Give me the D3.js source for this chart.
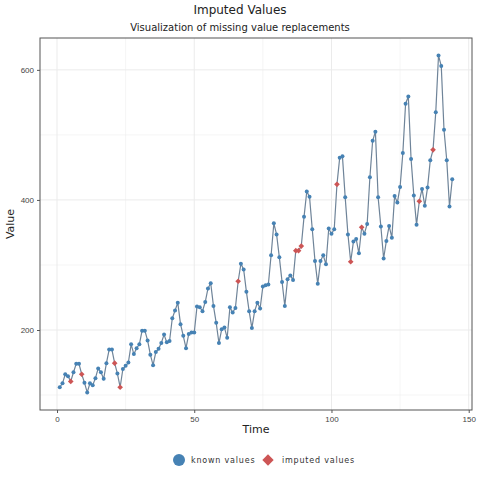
<!DOCTYPE html>
<html><head><meta charset="utf-8">
<script src="https://cdn.jsdelivr.net/npm/d3@7"></script>
<style>body{margin:0;background:#fff;font-family:"DejaVu Sans",sans-serif}</style>
</head><body><svg id="chart"></svg>
<script>
const width = 480, height = 480;
// AirPassengers-like series, index 1..144
const values = [112,118,132,129,121,135,148,148,136,119,104,118,
  115,126,141,135,125,149,170,170,158,133,114,140,
  145,150,178,163,172,178,199,199,184,162,146,166,
  171,180,193,181,183,218,230,242,209,191,172,194,
  196,196,236,235,229,243,264,272,237,211,180,201,
  204,188,235,227,234,264,302,293,259,229,203,229,
  242,233,267,269,270,315,364,347,312,274,237,278,
  284,277,317,313,318,374,413,405,355,306,271,306,
  315,301,356,348,355,422,465,467,404,347,305,336,
  340,318,362,348,363,435,491,505,404,359,310,337,
  360,342,406,396,420,472,548,559,463,407,362,405,
  417,391,419,461,472,535,622,606,508,461,390,432];
const imputedIdx = [5, 9, 21, 23, 66, 87, 88, 89, 102, 107, 111, 132, 137];
const imputedVal = [121, 132, 149, 112, 275, 322, 322, 329, 424, 305, 358, 398, 477];
const xTicks = [0, 50, 100, 150];
const yTicks = [200, 400, 600];

const series = values.map((v, i) => ({ t: i + 1, v, imp: false }));
imputedIdx.forEach((t, k) => { series[t - 1].v = imputedVal[k]; series[t - 1].imp = true; });

const m = { l: 40, r: 472, t: 38, b: 410 };
const svg = d3.select('#chart').attr('width', width).attr('height', height);
const x = d3.scaleLinear().domain([-6.2, 151.2]).range([m.l, m.r]);
const y = d3.scaleLinear().domain([77, 649]).range([m.b, m.t]);

// grid
const grid = svg.append('g').attr('stroke', '#ebebeb');
d3.range(-25, 151, 25).forEach(t => { if (t >= -6) grid.append('line').attr('x1', x(t)).attr('x2', x(t)).attr('y1', m.t).attr('y2', m.b).attr('stroke-width', t % 50 ? 0.5 : 1); });
d3.range(100, 650, 100).forEach(t => grid.append('line').attr('y1', y(t)).attr('y2', y(t)).attr('x1', m.l).attr('x2', m.r).attr('stroke-width', t % 200 ? 0.5 : 1));

svg.append('rect').attr('x', m.l).attr('y', m.t).attr('width', m.r - m.l).attr('height', m.b - m.t)
  .attr('fill', 'none').attr('stroke', '#555').attr('stroke-width', 1);

const xa = svg.append('g').attr('transform', `translate(0,${m.b})`).call(d3.axisBottom(x).tickValues(xTicks).tickSize(3));
const ya = svg.append('g').attr('transform', `translate(${m.l},0)`).call(d3.axisLeft(y).tickValues(yTicks).tickSize(3));
[xa, ya].forEach(a => { a.select('.domain').remove(); a.selectAll('text').attr('fill', '#444').style('font-size', '8px'); a.selectAll('line').attr('stroke', '#555'); });

svg.append('path').datum(series).attr('fill', 'none').attr('stroke', '#6f8499').attr('stroke-width', 1.2)
  .attr('d', d3.line().x(d => x(d.t)).y(d => y(d.v)));

svg.append('g').selectAll('circle').data(series.filter(d => !d.imp)).join('circle')
  .attr('cx', d => x(d.t)).attr('cy', d => y(d.v)).attr('r', 2).attr('fill', '#4682b4');

const diamond = d3.symbol().type(d3.symbolDiamond).size(24);
svg.append('g').selectAll('path').data(series.filter(d => d.imp)).join('path')
  .attr('transform', d => `translate(${x(d.t)},${y(d.v)}) rotate(45)`).attr('d', d3.symbol().type(d3.symbolSquare).size(16)).attr('fill', '#cd5555');

svg.append('text').attr('x', 240).attr('y', 14).attr('text-anchor', 'middle').style('font-size', '12px').attr('fill', '#222').text('Imputed Values');
svg.append('text').attr('x', 240).attr('y', 31).attr('text-anchor', 'middle').style('font-size', '10px').attr('fill', '#222').text('Visualization of missing value replacements');
svg.append('text').attr('x', (m.l + m.r) / 2).attr('y', 433).attr('text-anchor', 'middle').style('font-size', '11px').attr('fill', '#222').text('Time');
svg.append('text').attr('transform', `translate(14,${(m.t + m.b) / 2}) rotate(-90)`).attr('text-anchor', 'middle').style('font-size', '11px').attr('fill', '#222').text('Value');

const lg = svg.append('g');
lg.append('circle').attr('cx', 179).attr('cy', 460).attr('r', 6).attr('fill', '#4682b4');
lg.append('text').attr('x', 191).attr('y', 463).style('font-size', '8px').attr('fill', '#333').style('letter-spacing', '0.8px').text('known values');
lg.append('path').attr('transform', 'translate(268,460) rotate(45)').attr('d', d3.symbol().type(d3.symbolSquare).size(64)).attr('fill', '#cd5555');
lg.append('text').attr('x', 282).attr('y', 463).style('font-size', '8px').attr('fill', '#333').style('letter-spacing', '0.8px').text('imputed values');
</script></body></html>
